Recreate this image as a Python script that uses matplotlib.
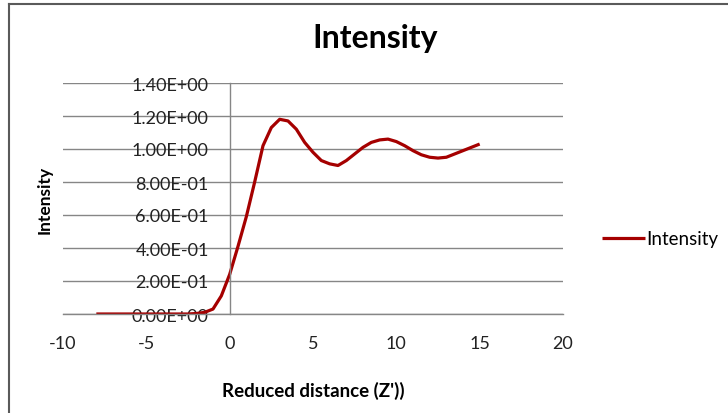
import matplotlib.pyplot as plt
from matplotlib.lines import Line2D

plt.rcParams['font.family'] = ['Lato', 'DejaVu Sans']
plt.rcParams['axes.unicode_minus'] = False

# === Data ===
z_reduced = [-8, -7.5, -7, -6.5, -6, -5.5, -5, -4.5, -4, -3.5, -3, -2.5, -2,
             -1.5, -1, -0.5, 0, 0.5, 1, 1.5, 2, 2.5, 3, 3.5, 4, 4.5, 5, 5.5,
             6, 6.5, 7, 7.5, 8, 8.5, 9, 9.5, 10, 10.5, 11, 11.5, 12, 12.5,
             13, 13.5, 14, 14.5, 15]
intensity = [0.0, 0.0, 0.0, 0.0, 0.0, 0.0, 0.0, 0.0, 0.0, 0.0, 0.0, 0.0, 0.003,
             0.01, 0.03, 0.11, 0.24, 0.41, 0.59, 0.80, 1.02, 1.13, 1.18, 1.17,
             1.12, 1.04, 0.98, 0.93, 0.91, 0.90, 0.93, 0.97, 1.01, 1.04, 1.055,
             1.06, 1.045, 1.02, 0.99, 0.965, 0.95, 0.945, 0.95, 0.97, 0.99,
             1.01, 1.03]
y_ticks = [0.0, 0.2, 0.4, 0.6, 0.8, 1.0, 1.2, 1.4]
x_ticks = [-10, -5, 0, 5, 10, 15, 20]

W, H = 728, 414
fig = plt.figure(figsize=(W / 100, H / 100), dpi=100)
ax = fig.add_axes([63 / W, 1 - 315 / H, 500 / W, 231 / H])

line_color = '#A50000'
grid_color = '#868686'

ax.plot(z_reduced, intensity, color=line_color, linewidth=2.3,
        label='Intensity', solid_capstyle='butt')

ax.set_xlim(-10, 20)
ax.set_ylim(0, 1.4)
ax.set_xticks(x_ticks)
ax.set_yticks(y_ticks)
ax.set_yticklabels([f"{v:.2E}" for v in y_ticks])

ax.yaxis.grid(True, color=grid_color, linewidth=1.0)
ax.set_axisbelow(True)

for s in ['top', 'right']:
    ax.spines[s].set_visible(False)
ax.spines['left'].set_position(('data', 0))
ax.spines['left'].set_color(grid_color)
ax.spines['left'].set_linewidth(1.0)
ax.spines['bottom'].set_color(grid_color)
ax.spines['bottom'].set_linewidth(1.0)

ax.tick_params(axis='y', length=0, pad=15, labelsize=13, labelcolor='#222222')
ax.tick_params(axis='x', length=0, pad=15, labelsize=13, labelcolor='#222222')

fig.text(375 / W, 1 - 48 / H, 'Intensity', fontsize=23, fontweight='bold',
         ha='center', va='baseline')
ax.set_xlabel("Reduced distance (Z'))", fontsize=13.5, fontweight='bold')
ax.xaxis.set_label_coords(0.5, -0.29)
ax.set_ylabel('Intensity', fontsize=12.5, fontweight='bold')
ax.yaxis.set_label_coords(-0.02, 0.5)

fig.legend(loc='center left', bbox_to_anchor=(585 / W, 1 - 240 / H),
           frameon=False, fontsize=13.5, handlelength=2.3, handletextpad=0.08)

# outer chart frame (right and bottom edges are cropped off)
fig.add_artist(Line2D([9 / W, 9 / W], [0, 1 - 5 / H], color='#5a5a5a',
                      linewidth=1.5, transform=fig.transFigure))
fig.add_artist(Line2D([9 / W, 1], [1 - 5 / H, 1 - 5 / H], color='#5a5a5a',
                      linewidth=1.5, transform=fig.transFigure))

fig.savefig('out.png', dpi=100)
